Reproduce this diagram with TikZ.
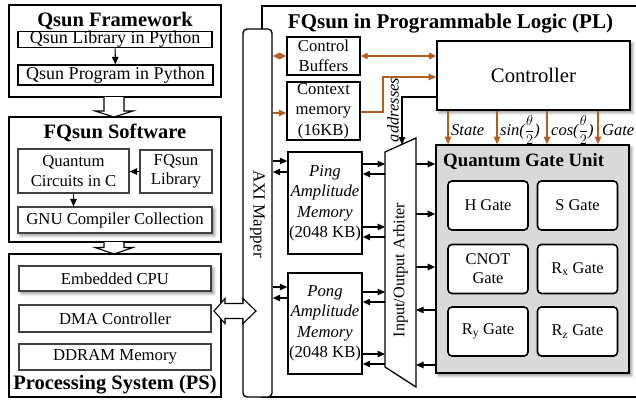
\documentclass[tikz,border=0pt]{standalone}
\usepackage{fontspec}
\setmainfont{Liberation Serif}
\usetikzlibrary{arrows.meta,shadows,shadows.blur}

\definecolor{wirecol}{RGB}{178,94,30}
\definecolor{unitgray}{RGB}{217,217,217}
\definecolor{edgegray}{RGB}{64,64,64}

% horizontal connector between two named objects at a given height
\newcommand\hconn[4]{\draw[#1] (#2 |- 0,#4) -- (#3 |- 0,#4);}
% half-angle fraction used in the controller signal labels
\newcommand\halftheta{{\fontsize{13.5}{15}\selectfont$\displaystyle\frac{\theta}{2}$}}

\begin{document}
\begin{tikzpicture}[x=1pt,y=-1pt,
  grpbox/.style={draw,line width=1.8pt,inner sep=0pt},
  grptitle/.style={font=\fontsize{20.5}{22}\selectfont\bfseries,anchor=base,inner sep=0pt},
  pybox/.style={draw,line width=1.2pt,inner sep=0pt,font=\fontsize{18}{20}\selectfont},
  swbox/.style={draw=edgegray,line width=1.2pt,inner sep=0pt,align=center,fill=white,
    font=\fontsize{16.7}{19.5}\selectfont},
  plbox/.style={draw,line width=1.4pt,inner sep=0pt,align=center,fill=white,
    font=\fontsize{16.7}{20.5}\selectfont},
  softshadow/.style={blur shadow={shadow xshift=2.5pt,shadow yshift=-2.5pt,
    shadow blur radius=3pt,shadow opacity=45}},
  gatebox/.style={draw,line width=1.6pt,rounded corners=4pt,fill=white,inner sep=0pt,
    minimum width=80,minimum height=49,align=center,font=\fontsize{16.4}{19}\selectfont},
  blk/.style={line width=1.1pt,-{Triangle[length=7.5pt,width=6.5pt]}},
  wirearr/.style={draw=wirecol,line width=1.1pt,-{Triangle[length=7.5pt,width=6.5pt]}},
  wirebi/.style={draw=wirecol,line width=1.1pt,{Triangle[length=7pt,width=6.5pt]}-{Triangle[length=7pt,width=6.5pt]}},
  hollow/.style={draw,line width=1.1pt,fill=white},
  sig/.style={font=\fontsize{16.5}{18}\selectfont\itshape,anchor=base west,inner sep=0pt}
]
\useasboundingbox (0,0) rectangle (636,399);

% ---------------- Qsun Framework ----------------
\node[grpbox,minimum width=212,minimum height=92] (qf) at (115,51) {};
\node[grptitle] (qft) at (115,26.5) {Qsun Framework};
\node[pybox,minimum width=194,minimum height=15] (ql) at (115,39.5) {Qsun Library in Python};
\node[pybox,minimum width=195,minimum height=20] (qp) at (115.5,75) {Qsun Program in Python};
\draw[blk] (ql) -- (qp);

% hollow arrow down
\path[hollow] (104,97) -- (104,111) -- (95,111) -- (114,117) -- (133,111) -- (124,111) -- (124,97);

% ---------------- FQsun Software ----------------
\node[grpbox,minimum width=212,minimum height=125] (fs) at (115,179.5) {};
\node[grptitle] (fst) at (115,138) {FQsun Software};
\node[swbox,minimum width=111,minimum height=44] (qc) at (73.5,171) {Quantum\\Circuits in C};
\node[swbox,minimum width=72,minimum height=43] (fl) at (176,171.5) {FQsun\\Library};
\node[swbox,softshadow,minimum width=194,minimum height=26] (gnu) at (115,220) {GNU Compiler Collection};
\draw[blk] (fl.west) -- (qc.east |- fl.west);
\draw[blk] (qc.south) -- (qc.south |- gnu.north);

% hollow arrow down
\path[hollow] (104,242) -- (104,247.5) -- (95,247.5) -- (114,254) -- (133,247.5) -- (124,247.5) -- (124,242);

% ---------------- Processing System ----------------
\node[grpbox,minimum width=212,minimum height=143] (ps) at (115,325.5) {};
\node[grptitle] (pst) at (115,389) {Processing System (PS)};
\node[swbox,softshadow,minimum width=192,minimum height=25] (cpu) at (115,278.5) {Embedded CPU};
\node[swbox,minimum width=192,minimum height=27] (dma) at (115,318.5) {DMA Controller};
\node[swbox,minimum width=192,minimum height=26] (ddr) at (115,357) {DDRAM Memory};

% ---------------- Programmable Logic ----------------
\draw[line width=1.8pt] (637,6) -- (262,6) -- (262,397) -- (637,397);
\node[grptitle,font=\fontsize{21}{23}\selectfont\bfseries] (plt) at (450.5,28) {FQsun in Programmable Logic (PL)};

\node[draw,line width=1.4pt,rounded corners=4pt,fill=white,minimum width=29,minimum height=368,inner sep=0pt] (axi) at (257.5,213) {};
\node[rotate=-90,font=\fontsize{17}{19}\selectfont,inner sep=0pt] (axil) at (257.5,214) {AXI Mapper};

\node[plbox,minimum width=73,minimum height=38] (cb) at (323.5,56) {Control\\Buffers};
\node[plbox,minimum width=73,minimum height=58] (cm) at (323.5,111) {Context\\memory\\(16KB)};

\node[draw,line width=1.6pt,fill=white,softshadow,minimum width=193,minimum height=69,inner sep=0pt] (ctrl) at (533.5,75.5) {};
\node[font=\fontsize{20.7}{22}\selectfont,anchor=base,inner sep=0pt] (ctrll) at (533.5,82.5) {Controller};

\node[plbox,minimum width=74,minimum height=102] (ping) at (325,203) {\textit{Ping}\\\textit{Amplitude}\\\textit{Memory}\\(2048 KB)};
\node[plbox,minimum width=74,minimum height=101] (pong) at (325,323.5) {\textit{Pong}\\\textit{Amplitude}\\\textit{Memory}\\(2048 KB)};

% input/output arbiter
\draw[line width=1.3pt,fill=white] (385,152) -- (416,138) -- (416,387) -- (385,367) -- cycle;
\coordinate (arbw) at (385,260);
\coordinate (arbe) at (416,260);
\coordinate (arbtop) at (402,144.5);
\node[rotate=90,font=\fontsize{16.2}{18}\selectfont,inner sep=0pt] (arbl) at (400.5,270) {Input/Output Arbiter};

% quantum gate unit
\node[draw,line width=1.6pt,fill=unitgray,softshadow,minimum width=193,minimum height=228,inner sep=0pt] (qgu) at (532.5,259) {};
\node[font=\fontsize{18.8}{20}\selectfont\bfseries,anchor=base west,inner sep=0pt] (qgut) at (443,166) {Quantum Gate Unit};
\node[gatebox] (hg) at (488,205.5) {H Gate};
\node[gatebox] (sg) at (577.5,205.5) {S Gate};
\node[gatebox] (cn) at (488,269) {CNOT\\Gate};
\node[gatebox] (rx) at (577.5,269) {R\textsubscript{x} Gate};
\node[gatebox] (ry) at (488,331.5) {R\textsubscript{y} Gate};
\node[gatebox] (rz) at (577.5,331.5) {R\textsubscript{z} Gate};

% ---------------- control connections ----------------
\draw[wirebi] (axi.east |- cb.west) -- (cb.west);
\draw[wirearr] (axi.east |- 0,113) -- (cm.west |- 0,113);
\draw[wirebi] (cb.east) -- (cb.east -| ctrl.west);
\coordinate (cmbend) at (383,77);
\draw[wirearr] (cm.east |- 0,112) -| (cmbend) -- (cmbend -| ctrl.west);

\coordinate (addr) at (402,97);
\draw[blk] (ctrl.west |- addr) -- (addr) -- (arbtop);
\node[rotate=90,font=\fontsize{16.5}{18}\selectfont\itshape,inner sep=0pt] (addrl) at (393,110) {addresses};

\foreach \xx in {448,497,547,598}
  \draw[wirearr] (ctrl.south -| \xx,0) -- (qgu.north -| \xx,0);
\node[sig] (lst) at (451,135) {State};
\node[sig] (lsin) at (500,135) {sin(\halftheta)};
\node[sig] (lcos) at (551,135) {cos(\halftheta)};
\node[sig] (lgt) at (602,135) {Gate};

% ---------------- data connections ----------------
\hconn{blk}{axi.east}{ping.west}{161}
\hconn{blk}{ping.west}{axi.east}{172}
\hconn{blk}{axi.east}{pong.west}{287}
\hconn{blk}{pong.west}{axi.east}{298}

\hconn{blk}{ping.east}{arbw}{164}
\hconn{blk}{arbw}{ping.east}{174}
\hconn{blk}{ping.east}{arbw}{227}
\hconn{blk}{arbw}{ping.east}{237}
\hconn{blk}{pong.east}{arbw}{292}
\hconn{blk}{arbw}{pong.east}{302}
\hconn{blk}{pong.east}{arbw}{354}
\hconn{blk}{arbw}{pong.east}{364}

\hconn{blk}{arbe}{qgu.west}{164}
\hconn{blk}{arbe}{qgu.west}{214}
\hconn{blk}{arbe}{qgu.west}{267}
\hconn{blk}{qgu.west}{arbe}{310}
\hconn{blk}{qgu.west}{arbe}{365}

% PS <-> AXI hollow double arrow
\path[hollow] (214,311) -- (225,298.5) -- (225,303.5) -- (243,303.5) -- (243,298.5)
  -- (256,311) -- (243,323.5) -- (243,318.5) -- (225,318.5) -- (225,323.5) -- cycle;
\end{tikzpicture}
\end{document}
